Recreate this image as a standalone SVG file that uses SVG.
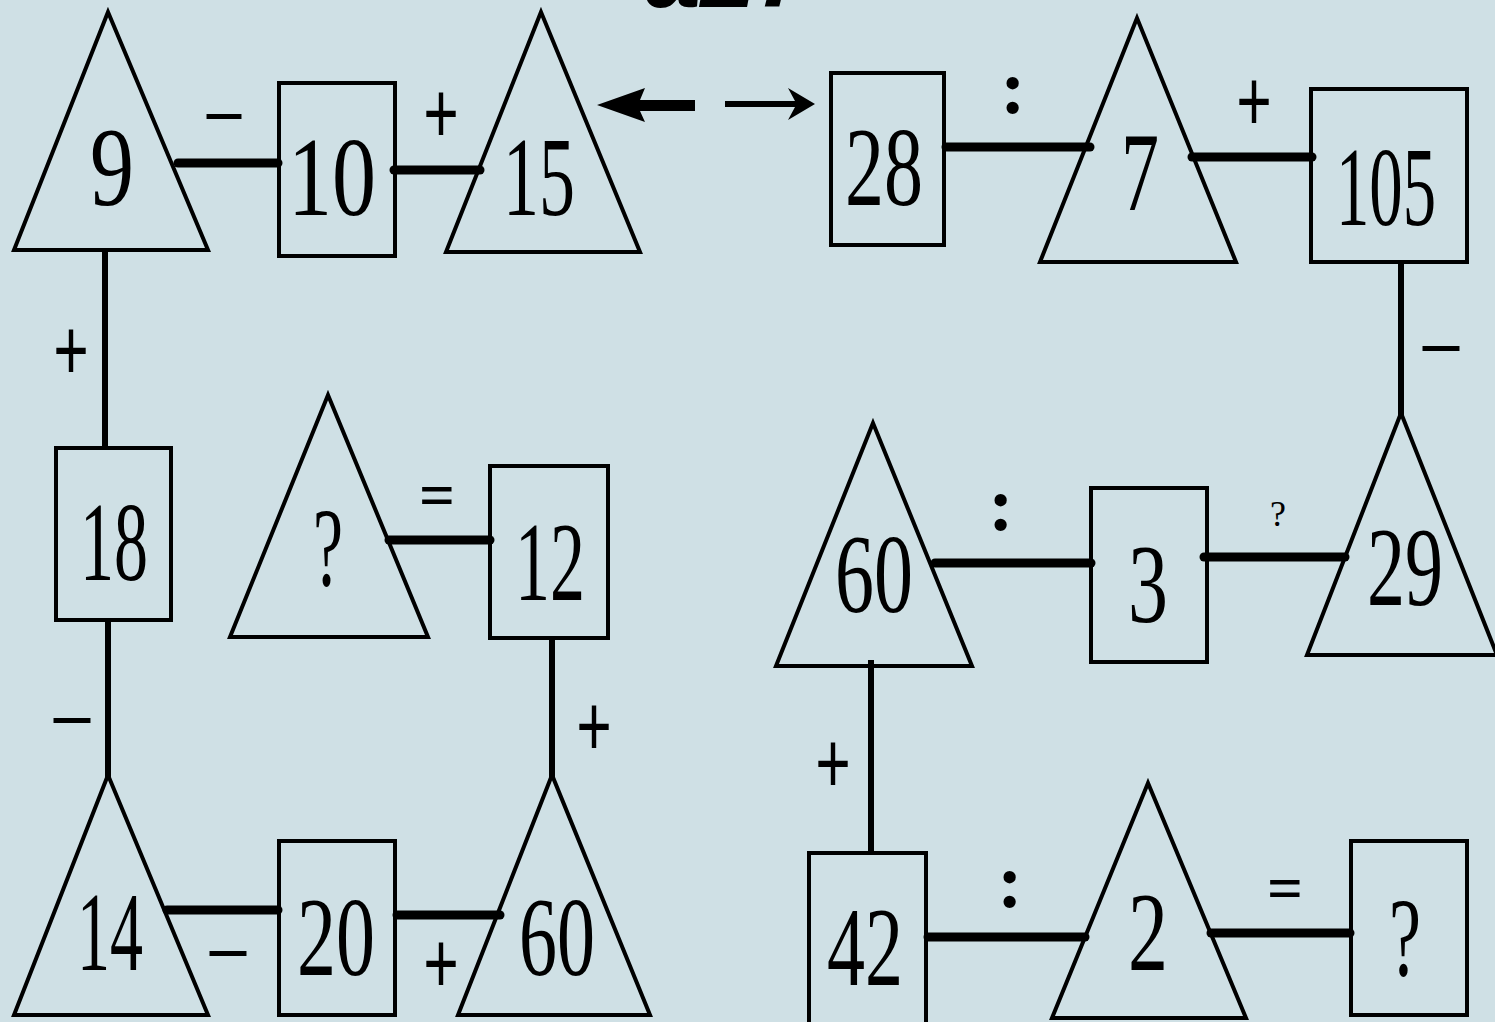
<svg xmlns="http://www.w3.org/2000/svg" width="1495" height="1022" viewBox="0 0 1495 1022">
<defs>
<style>
.bg{fill:#cfe0e5}
.shape{fill:none;stroke:#000;stroke-width:4;stroke-linejoin:miter}
.num{font-family:"Liberation Serif","Times New Roman",serif;font-size:112px;fill:#000;text-anchor:middle}
.op{font-family:"Liberation Serif","Times New Roman",serif;fill:#000;text-anchor:middle}
.plus{font-weight:bold}
.h{stroke:#000;stroke-width:9;stroke-linecap:round;fill:none}
.v{stroke:#000;stroke-width:6;fill:none}
.title{font-family:"Liberation Sans",Arial,sans-serif;font-weight:bold;font-style:italic;font-size:100px;fill:#000}
</style>
</defs>
<rect class="bg" x="0" y="0" width="1495" height="1022"/>
<text class="title" x="645" y="7">a27</text>

<g id="connectors">
<line class="h" x1="178" y1="163" x2="278" y2="163"/>
<line class="h" x1="394" y1="170" x2="480" y2="170"/>
<line class="h" x1="946" y1="147" x2="1090" y2="147"/>
<line class="h" x1="1192" y1="157" x2="1312" y2="157"/>
<line class="v" x1="1401" y1="262" x2="1401" y2="418"/>
<line class="h" x1="1204" y1="557" x2="1345" y2="557"/>
<line class="h" x1="935" y1="563" x2="1091" y2="563"/>
<line class="v" x1="871" y1="660" x2="871" y2="855"/>
<line class="h" x1="928" y1="937" x2="1085" y2="937"/>
<line class="h" x1="1211" y1="933" x2="1350" y2="933"/>
<line class="v" x1="105" y1="250" x2="105" y2="448"/>
<line class="v" x1="108" y1="620" x2="108" y2="777"/>
<line class="h" x1="167" y1="910" x2="278" y2="910"/>
<line class="h" x1="397" y1="915" x2="500" y2="915"/>
<line class="v" x1="552" y1="638" x2="552" y2="777"/>
<line class="h" x1="389" y1="540" x2="490" y2="540"/>
<polygon points="597,105 645,88 640,100 695,100 695,111 640,111 645,122" fill="#000"/>
<polygon points="815,104 788,88 795,101 725,101 725,107 795,107 788,120" fill="#000"/>
<text class="op" x="224" y="133" font-size="70" font-weight="bold" textLength="34" lengthAdjust="spacingAndGlyphs">–</text>
<text class="op plus" x="441" y="144" font-size="90" textLength="36" lengthAdjust="spacingAndGlyphs">+</text>
<text class="op" x="1013" y="113" font-size="76" font-weight="bold">:</text>
<text class="op plus" x="1254" y="132" font-size="90" textLength="36" lengthAdjust="spacingAndGlyphs">+</text>
<text class="op" x="1441" y="365" font-size="70" font-weight="bold" textLength="36" lengthAdjust="spacingAndGlyphs">–</text>
<text class="op" x="1278" y="526" font-size="36">?</text>
<text class="op" x="1001" y="530" font-size="76" font-weight="bold">:</text>
<text class="op plus" x="833" y="794" font-size="90" textLength="36" lengthAdjust="spacingAndGlyphs">+</text>
<text class="op" x="1010" y="907" font-size="76" font-weight="bold">:</text>
<text class="op" x="1285" y="910" font-size="64" font-weight="bold" textLength="36" lengthAdjust="spacingAndGlyphs">=</text>
<text class="op plus" x="71" y="381" font-size="90" textLength="36" lengthAdjust="spacingAndGlyphs">+</text>
<text class="op" x="72" y="737" font-size="70" font-weight="bold" textLength="36" lengthAdjust="spacingAndGlyphs">–</text>
<text class="op" x="228" y="970" font-size="70" font-weight="bold" textLength="36" lengthAdjust="spacingAndGlyphs">–</text>
<text class="op plus" x="441" y="994" font-size="90" textLength="36" lengthAdjust="spacingAndGlyphs">+</text>
<text class="op plus" x="594" y="757" font-size="90" textLength="36" lengthAdjust="spacingAndGlyphs">+</text>
<text class="op" x="437" y="517" font-size="64" font-weight="bold" textLength="36" lengthAdjust="spacingAndGlyphs">=</text>
</g>

<g id="n9"><polygon class="shape" points="108,12 14,250 208,250"/><text class="num" x="112" y="205" textLength="44" lengthAdjust="spacingAndGlyphs">9</text></g>
<g id="n10"><rect class="shape" x="279" y="83" width="116" height="173"/><text class="num" x="332" y="215" font-size="118" textLength="88" lengthAdjust="spacingAndGlyphs">10</text></g>
<g id="n15"><polygon class="shape" points="541,12 446,252 640,252"/><text class="num" x="539" y="215" font-size="115" textLength="72" lengthAdjust="spacingAndGlyphs">15</text></g>
<g id="n28"><rect class="shape" x="831" y="73" width="113" height="172"/><text class="num" x="884" y="205" font-size="114" textLength="78" lengthAdjust="spacingAndGlyphs">28</text></g>
<g id="n7"><polygon class="shape" points="1137,18 1040,262 1236,262"/><text class="num" x="1140" y="210" font-size="104" textLength="38" lengthAdjust="spacingAndGlyphs">7</text></g>
<g id="n105"><rect class="shape" x="1311" y="89" width="156" height="173"/><text class="num" x="1386" y="225" font-size="112" textLength="100" lengthAdjust="spacingAndGlyphs">105</text></g>
<g id="n29"><polygon class="shape" points="1401,413 1307,655 1497,655"/><text class="num" x="1405" y="605" font-size="111" textLength="76" lengthAdjust="spacingAndGlyphs">29</text></g>
<g id="n3"><rect class="shape" x="1091" y="488" width="116" height="174"/><text class="num" x="1148" y="622" font-size="114" textLength="40" lengthAdjust="spacingAndGlyphs">3</text></g>
<g id="n60a"><polygon class="shape" points="873,423 776,666 972,666"/><text class="num" x="874" y="612" font-size="110" textLength="78" lengthAdjust="spacingAndGlyphs">60</text></g>
<g id="n42"><rect class="shape" x="809" y="853" width="117" height="175"/><text class="num" x="865" y="985" font-size="111" textLength="76" lengthAdjust="spacingAndGlyphs">42</text></g>
<g id="n2"><polygon class="shape" points="1148,783 1052,1018 1246,1018"/><text class="num" x="1148" y="970" font-size="111" textLength="40" lengthAdjust="spacingAndGlyphs">2</text></g>
<g id="nq2"><rect class="shape" x="1351" y="841" width="116" height="174"/><text class="num" x="1405" y="975" font-size="104" textLength="32" lengthAdjust="spacingAndGlyphs">?</text></g>
<g id="n18"><rect class="shape" x="56" y="448" width="115" height="172"/><text class="num" x="114" y="580" font-size="111" textLength="68" lengthAdjust="spacingAndGlyphs">18</text></g>
<g id="n14"><polygon class="shape" points="108,775 14,1015 208,1015"/><text class="num" x="110" y="970" font-size="111" textLength="66" lengthAdjust="spacingAndGlyphs">14</text></g>
<g id="n20"><rect class="shape" x="279" y="841" width="116" height="174"/><text class="num" x="336" y="975" font-size="111" textLength="78" lengthAdjust="spacingAndGlyphs">20</text></g>
<g id="n60b"><polygon class="shape" points="552,775 458,1015 650,1015"/><text class="num" x="557" y="975" font-size="111" textLength="76" lengthAdjust="spacingAndGlyphs">60</text></g>
<g id="n12"><rect class="shape" x="490" y="466" width="118" height="172"/><text class="num" x="550" y="600" font-size="111" textLength="70" lengthAdjust="spacingAndGlyphs">12</text></g>
<g id="nq1"><polygon class="shape" points="328,395 230,637 428,637"/><text class="num" x="328" y="585" font-size="100" textLength="30" lengthAdjust="spacingAndGlyphs">?</text></g>
</svg>
